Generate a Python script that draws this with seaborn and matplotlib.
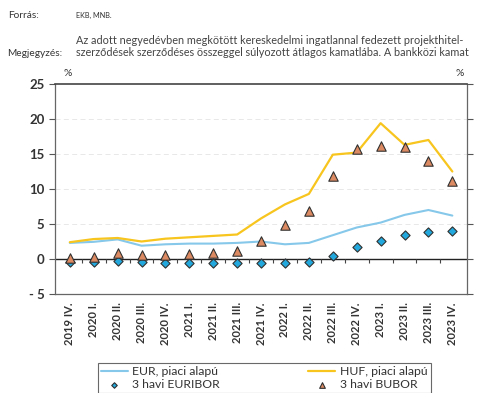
import numpy as np
import pandas as pd
import matplotlib
matplotlib.use("Agg")
import matplotlib.pyplot as plt
import seaborn as sns

quarters = ["2019 IV.", "2020 I.", "2020 II.", "2020 III.", "2020 IV.", "2021 I.", "2021 II.",
            "2021 III.", "2021 IV.", "2022 I.", "2022 II.", "2022 III.", "2022 IV.", "2023 I.",
            "2023 II.", "2023 III.", "2023 IV."]
eur_market = [2.3, 2.45, 2.8, 1.9, 2.1, 2.2, 2.2, 2.3, 2.5, 2.1, 2.3, 3.4, 4.5, 5.2, 6.3, 7.0, 6.2]
huf_market = [2.4, 2.85, 3.0, 2.5, 2.9, 3.1, 3.3, 3.5, 5.8, 7.8, 9.3, 14.9, 15.2, 19.4, 16.3, 17.0, 12.5]
euribor = [-0.4, -0.4, -0.3, -0.47, -0.52, -0.54, -0.54, -0.55, -0.57, -0.53, -0.36, 0.47, 1.77,
           2.64, 3.36, 3.8, 3.96]
bubor = [0.16, 0.3, 0.9, 0.6, 0.6, 0.65, 0.85, 1.2, 2.6, 4.9, 6.8, 11.9, 15.7, 16.1, 16.0, 14.0, 11.2]
yticks = [-5, 0, 5, 10, 15, 20, 25]

df = pd.DataFrame({"idx": np.arange(len(quarters)), "eur": eur_market, "huf": huf_market,
                   "euribor": euribor, "bubor": bubor})

sns.set_style("white")
plt.rcParams["font.family"] = ["Lato", "DejaVu Sans"]

W, H = 479, 393
fig = plt.figure(figsize=(4.79, 3.93), dpi=100)
ax = fig.add_axes([0.1148, 0.2519, 0.8595, 0.5344])

c_eur = "#86c8ea"
c_huf = "#f7c51e"
c_euribor = "#22a8dc"
c_bubor = "#dc8a62"

for y in [5, 10, 15, 20]:
    ax.axhline(y, color="#e4e4e4", lw=0.6, ls=(0, (6, 4)), zorder=0)
ax.axhline(0, color="#222222", lw=1.0, zorder=1)
ax.vlines(df["idx"].values[:-1] + 0.5, -0.6, 0.0, color="#444444", lw=0.8, zorder=1)

sns.lineplot(data=df, x="idx", y="eur", ax=ax, color=c_eur, lw=1.5, label="EUR, piaci alapú", zorder=3)
sns.lineplot(data=df, x="idx", y="huf", ax=ax, color=c_huf, lw=1.6, label="HUF, piaci alapú", zorder=3)
sns.scatterplot(data=df, x="idx", y="euribor", ax=ax, marker="D", s=22, color=c_euribor,
                edgecolor="#303030", linewidth=0.8, label="3 havi EURIBOR", zorder=4)
sns.scatterplot(data=df, x="idx", y="bubor", ax=ax, marker="^", s=46, color=c_bubor,
                edgecolor="#303030", linewidth=0.8, label="3 havi BUBOR", zorder=5)

ax.set_xlim(-0.62, 16.6)
ax.set_ylim(-5, 25)
ax.set_yticks(yticks)
ax.set_yticklabels([("- 5" if v < 0 else str(v)) for v in yticks])
ax.set_xticks(df["idx"])
ax.set_xticklabels(quarters, rotation=90, fontsize=8, color="#333333", fontweight="bold")
ax.tick_params(axis="x", length=0, pad=6)
ax.tick_params(axis="y", labelsize=9.5, labelcolor="#333333", length=4, width=0.8,
               color="#555555", left=True, right=True, direction="out")
for lab in ax.get_yticklabels():
    lab.set_fontweight("bold")
ax.set_xlabel("")
ax.set_ylabel("")
for s in ax.spines.values():
    s.set_color("#666666")
    s.set_linewidth(0.9)
ax.spines["top"].set_color("#444444")
ax.spines["top"].set_linewidth(1.2)

def px(x, y):
    return x / W, 1 - y / H

fig.text(*px(68, 74), "%", fontsize=7.5, color="#333333", ha="center", va="center")
fig.text(*px(460, 74), "%", fontsize=7.5, color="#333333", ha="center", va="center")

fig.text(*px(8, 15), "Forrás:", fontsize=7.3, color="#333333", va="center")
fig.text(*px(76, 15), "EKB, MNB.", fontsize=5.2, color="#333333", va="center")
fig.text(*px(76, 41), "Az adott negyedévben megkötött kereskedelmi ingatlannal fedezett projekthitel-",
         fontsize=7.8, color="#444444", va="center")
fig.text(*px(76, 53), "szerződések szerződéses összeggel súlyozott átlagos kamatlába. A bankközi kamat",
         fontsize=7.8, color="#444444", va="center")
fig.text(*px(7, 53), "Megjegyzés:", fontsize=7.3, color="#333333", va="center")

handles, labels = ax.get_legend_handles_labels()
order = [0, 2, 1, 3]
leg = ax.legend([handles[i] for i in order], [labels[i] for i in order],
                loc="upper center", bbox_to_anchor=(0.508, -0.3), ncol=2, frameon=True,
                fontsize=8.8, handlelength=2.2, columnspacing=7.2, handletextpad=0.4,
                borderpad=0.25, labelspacing=0.15, fancybox=False, markerscale=0.6)
leg.get_frame().set_edgecolor("#444444")
leg.get_frame().set_linewidth(0.8)
for t in leg.get_texts():
    t.set_color("#333333")

fig.savefig("out.png", dpi=100)
